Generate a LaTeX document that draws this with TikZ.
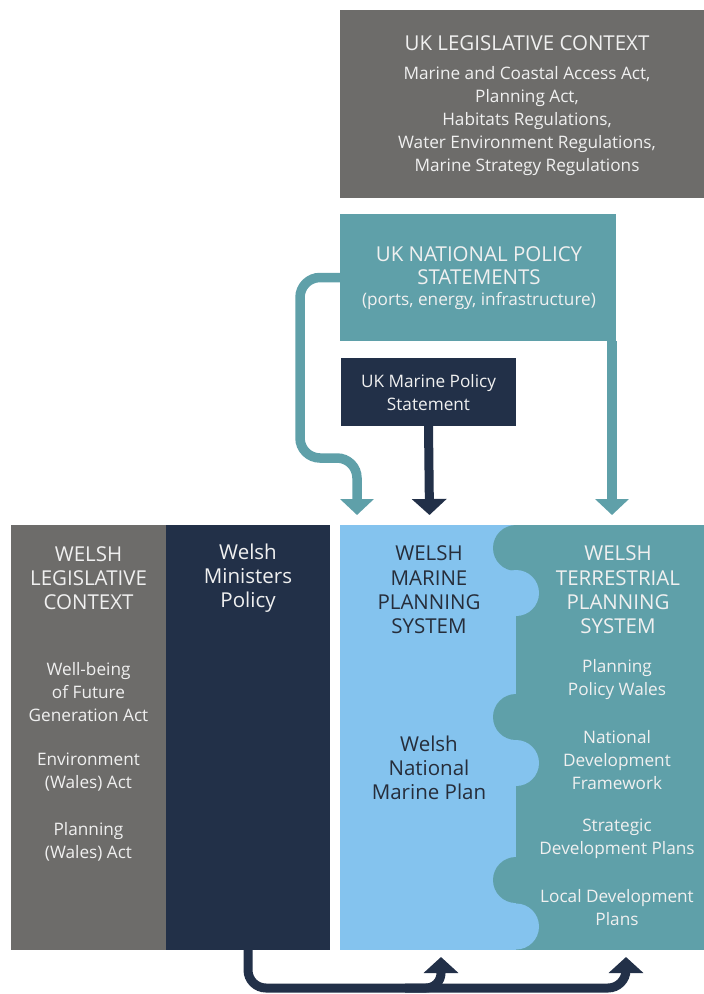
\documentclass[tikz,border=0pt]{standalone}
\usepackage{fontspec}
\setmainfont{Open Sans}
\usetikzlibrary{arrows.meta}

\definecolor{ukgrey}{HTML}{6D6C6A}
\definecolor{polteal}{HTML}{5FA0A9}
\definecolor{navy}{HTML}{223048}
\definecolor{seablue}{HTML}{84C3EE}
\definecolor{paper}{HTML}{F0F0F0}
\definecolor{ink}{HTML}{262D3A}

\tikzset{
  panel/.style={inner sep=0pt, outer sep=0pt},
  ttl/.style={text=paper, align=center, inner sep=0pt, font=\fontsize{20.5}{24.3}\selectfont},
  txt/.style={text=paper, align=center, inner sep=0pt, font=\fontsize{17.2}{23}\selectfont},
  tealarrow/.style={draw=polteal, line width=9.5pt, -{Triangle[width=33pt,length=16pt]}},
  navyarrow/.style={draw=navy, line width=9pt, -{Triangle[width=34pt,length=16pt]}}
}

\begin{document}
\begin{tikzpicture}[x=1pt, y=-1pt]
  \useasboundingbox (0,0) rectangle (704,994);

  %% --- upper part: UK context ---
  \node[panel, fill=ukgrey, minimum width=364pt, minimum height=188pt, anchor=north west] (ukleg) at (340,10) {};
  \node[ttl] (uklegT) at (527,43) {UK LEGISLATIVE CONTEXT};
  \node[txt] (uklegB) at (527,121.5) {Marine and Coastal Access Act,\\Planning Act,\\Habitats Regulations,\\Water Environment Regulations,\\Marine Strategy Regulations};

  \node[panel, fill=polteal, minimum width=276pt, minimum height=127pt, anchor=north west] (policy) at (340,214) {};
  \node[ttl, font=\fontsize{20.5}{23}\selectfont] (policyT) at (479,265.5) {UK NATIONAL POLICY\\STATEMENTS};
  \node[txt] (policyB) at (479,301) {(ports, energy, infrastructure)};

  \node[panel, fill=navy, minimum width=175pt, minimum height=68pt, anchor=north west] (mps) at (341,358) {};
  \node[txt] (mpsT) at (428.5,393) {UK Marine Policy\\Statement};

  %% --- lower part: Welsh system ---
  \node[panel, fill=ukgrey, minimum width=155pt, minimum height=425pt, anchor=north west] (wleg) at (11,525) {};
  \node[panel, fill=navy, minimum width=164pt, minimum height=425pt, anchor=north west] (minist) at (166,525) {};
  \node[panel, fill=seablue, minimum width=176pt, minimum height=425pt, anchor=north west] (marine) at (340,525) {};
  \node[panel, fill=polteal, minimum width=188pt, minimum height=425pt, anchor=north west] (terr) at (516,525) {};

  %% jigsaw edge between marine and terrestrial
  \begin{scope}
    \clip (340,525) rectangle (704,950);
    \foreach \yc in {548,717,880}
      \fill[polteal] (516,\yc) circle (23);
    \foreach \yc in {593,763,926.5}
      \fill[seablue] (516,\yc) circle (23);
  \end{scope}

  \node[ttl] (wlegT) at (88.5,578) {WELSH\\LEGISLATIVE\\CONTEXT};
  \node[txt] (wlegA) at (88.5,692) {Well-being\\of Future\\Generation Act};
  \node[txt] (wlegB) at (88.5,772.5) {Environment\\(Wales) Act};
  \node[txt] (wlegC) at (88.5,841.5) {Planning\\(Wales) Act};

  \node[ttl] (ministT) at (248,578) {Welsh\\Ministers\\Policy};

  \node[ttl, text=ink] (marineT) at (429,590) {WELSH\\MARINE\\PLANNING\\SYSTEM};
  \node[ttl, text=ink] (marineB) at (429,768) {Welsh\\National\\Marine Plan};

  \node[ttl] (terrT) at (618,590) {WELSH\\TERRESTRIAL\\PLANNING\\SYSTEM};
  \node[txt] (terrA) at (617,680) {Planning\\Policy Wales};
  \node[txt] (terrB) at (617,760) {National\\Development\\Framework};
  \node[txt] (terrC) at (617,838.5) {Strategic\\Development Plans};
  \node[txt] (terrD) at (617,908) {Local Development\\Plans};

  %% --- arrows ---
  \coordinate (marIn) at (357,515);
  \coordinate (mpsIn) at (429.5,515);
  \coordinate (terrIn) at (612,515);
  \coordinate (fork) at (405,988);
  \coordinate (marUp) at (441,957);
  \coordinate (terrUp) at (626,957);

  \draw[tealarrow, rounded corners=20pt] (policy.west) -| (300,458) -| (marIn);
  \draw[tealarrow] (terrIn |- policy.south) -- (terrIn);
  \draw[navyarrow] (mps.south) -- (mpsIn);

  \draw[navyarrow, rounded corners=18pt] (minist.south) |- (fork) -| (terrUp);
  \draw[navyarrow, rounded corners=15pt] (fork) -| (marUp);
\end{tikzpicture}
\end{document}
